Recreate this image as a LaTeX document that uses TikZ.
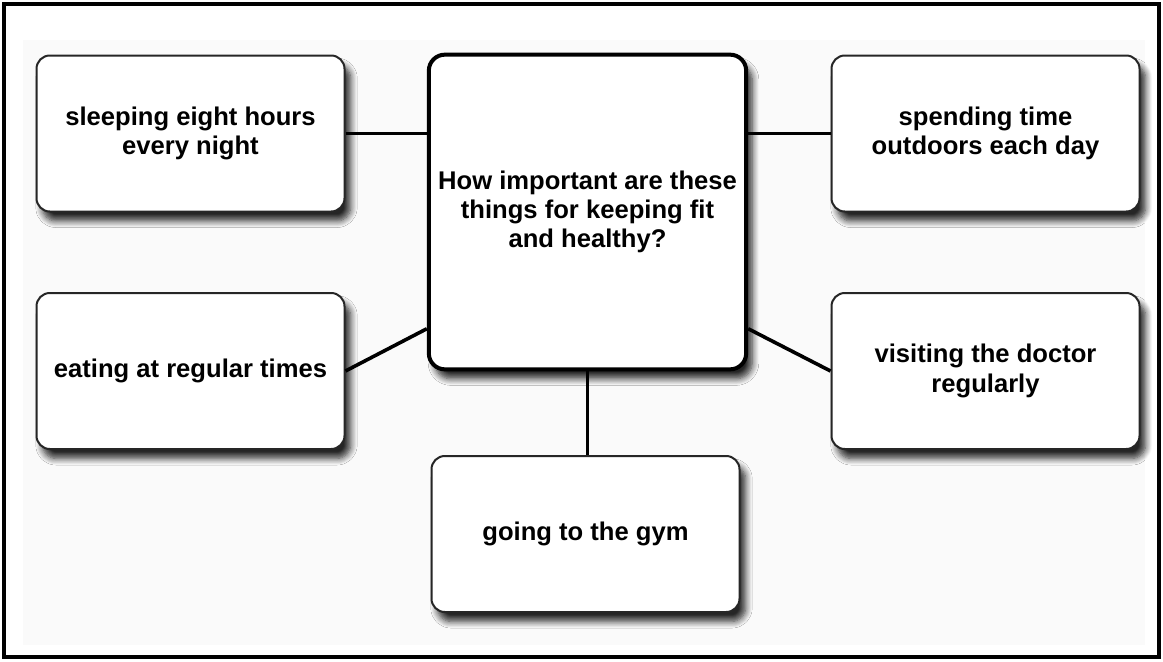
\documentclass[tikz,border=0pt]{standalone}
\usepackage{fontspec}
\setmainfont{Liberation Sans}
\usetikzlibrary{shadows.blur}

\begin{document}
\begin{tikzpicture}[x=0.75pt,y=-0.75pt,
    idea/.style={draw=black!85,line width=1.5pt,rounded corners=10pt,fill=white,
      minimum width=231pt,minimum height=117pt,align=center,
      font=\fontsize{19.2}{22}\selectfont\bfseries,
      blur shadow={shadow xshift=4.5pt,shadow yshift=-7pt,shadow blur radius=5pt,
        shadow blur steps=8,shadow opacity=85}},
    question/.style={idea,draw=black,line width=3pt,rounded corners=12pt,
      minimum width=238pt,minimum height=236pt},
    link/.style={line width=2.7pt}]
  \useasboundingbox (0,0) rectangle (1163,661);
  \fill[gray!4] (23,40) rectangle (1145,645);
  \draw[line width=2.4pt] (4,4) rectangle (1159,657);

  \node[question] (q) at (587.5,212) {How important are these\\things for keeping fit\\and healthy?};
  \node[idea] (sleep) at (190.5,133.5) {sleeping eight hours\\every night};
  \node[idea] (outdoors) at (985.5,133.5) {spending time\\outdoors each day};
  \node[idea] (eat) at (190.5,371) {eating at regular times};
  \node[idea] (doctor) at (985.5,371) {visiting the doctor\\regularly};
  \node[idea] (gym) at (585.5,534) {going to the gym};

  \draw[link] (sleep.east) -- (sleep.east -| q.west);
  \draw[link] (q.east |- outdoors.west) -- (outdoors.west);
  \draw[link] (eat.east) -- (q.216);
  \draw[link] (q.324) -- (doctor.west);
  \draw[link] (q.south) -- (q.south |- gym.north);
\end{tikzpicture}
\end{document}
